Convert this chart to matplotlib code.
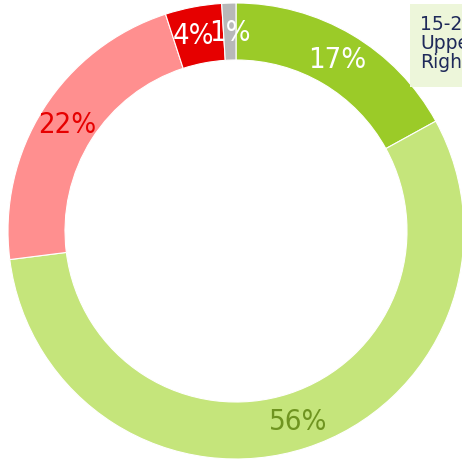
import matplotlib
matplotlib.use("Agg")
import matplotlib.pyplot as plt
from matplotlib.patches import Rectangle

categories = ["A", "B", "C", "D", "E"]
values = [17, 56, 22, 4, 1]
colors = ["#9bcb28", "#c5e57b", "#ff8f8f", "#e60000", "#b8b8b8"]
label_colors = ["white", "#6f9420", "#e60000", "white", "white"]
legend_lines = ["15-24", "Upper", "Right"]

W, H = 462, 460
fig = plt.figure(figsize=(W / 100, H / 100), dpi=100)
ax = fig.add_axes([0, 0, 1, 1])
ax.set_xlim(0, W)
ax.set_ylim(0, H)
ax.axis("off")

cx, cy, R = 236, H - 232, 228
ring = 57
wedges, texts = ax.pie(values, colors=colors, startangle=90, counterclock=False,
                       center=(cx, cy), radius=R,
                       wedgeprops=dict(width=ring, edgecolor="white", linewidth=0.8),
                       labels=[f"{v}%" for v in values], labeldistance=(R - ring / 2) / R,
                       textprops=dict(fontsize=21, family="DejaVu Sans", fontstretch="condensed"))
for t, c in zip(texts, label_colors):
    t.set_color(c)
    t.set_ha("center")
    t.set_va("center")
# nudge the small-slice label apart from its neighbour
x4, y4 = texts[3].get_position()
texts[3].set_position((x4 - 5, y4))
ax.set_xlim(0, W)
ax.set_ylim(0, H)
ax.set_aspect("equal")

ax.add_patch(Rectangle((410, H - 88), 60, 83, facecolor="#edf6da", edgecolor="none", zorder=5))
for i, s in enumerate(legend_lines):
    ax.text(420, H - 25 - i * 18.5, s, fontsize=13.5, color="#1f2a5a", family="DejaVu Sans",
            ha="left", va="center", zorder=6)

fig.savefig("out.png", dpi=100)
